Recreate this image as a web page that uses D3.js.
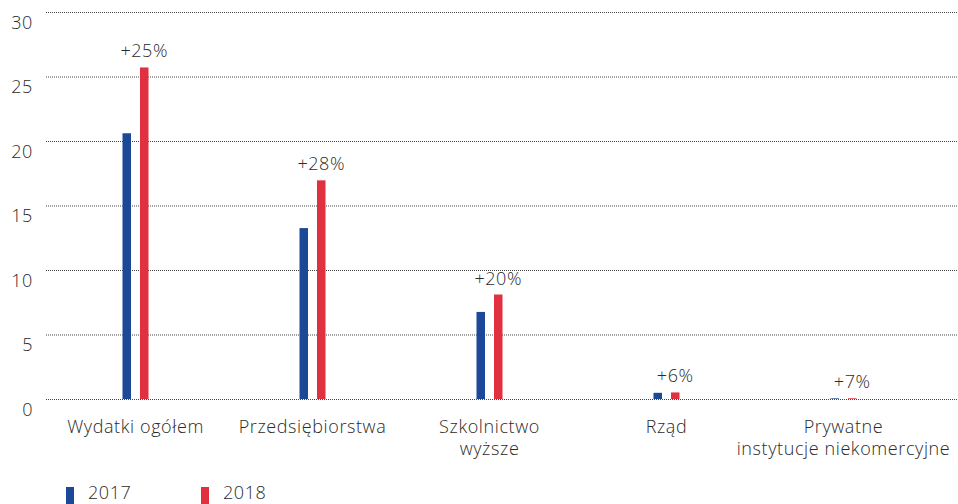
<!DOCTYPE html>
<html><head><meta charset="utf-8">
<script src="https://cdn.jsdelivr.net/npm/d3@7"></script>
<style>
html,body{margin:0;padding:0;background:#fff;}
svg text{font-family:"Open Sans",sans-serif;fill:#2a2a2a;font-weight:300;letter-spacing:0.6px;}
</style></head>
<body><svg id="c" width="958" height="504"></svg>
<script>
const categories = [["Wydatki ogółem"],["Przedsiębiorstwa"],["Szkolnictwo","wyższe"],["Rząd"],["Prywatne","instytucje niekomercyjne"]];
const values2017 = [20.6, 13.25, 6.75, 0.48, 0.05];
const values2018 = [25.7, 16.95, 8.1, 0.51, 0.054];
const changeLabels = ["+25%","+28%","+20%","+6%","+7%"];
const yTicks = [0,5,10,15,20,25,30];
const seriesNames = ["2017","2018"];
const colors = ["#1b4897","#e1303f"];

const FS = 18;
const svg = d3.select("#c");
const y = d3.scaleLinear().domain([0,30]).range([399,12]);
const x = d3.scaleBand().domain(d3.range(categories.length)).range([47,932]);

// gridlines
svg.append("g").selectAll("line").data(yTicks).join("line")
  .attr("x1",46).attr("x2",958)
  .attr("y1",d=>y(d)+0.5).attr("y2",d=>y(d)+0.5)
  .attr("stroke","#444").attr("stroke-width",1).attr("stroke-dasharray","1,1");

// y labels
const yAxis = d3.axisLeft(y).tickValues(yTicks).tickSize(0).tickPadding(0);
const ga = svg.append("g").attr("transform","translate(33,0)").call(yAxis);
ga.select(".domain").remove();
ga.selectAll("text").attr("dy",null).attr("y",16).attr("font-size",FS)
  .style("font-family","'Open Sans',sans-serif").style("font-weight",300).attr("fill","#2a2a2a");

const bw = 8.5;
const groups = svg.append("g").selectAll("g").data(categories).join("g")
  .attr("transform",(d,i)=>`translate(${x(i)+x.bandwidth()/2},0)`);
[values2017, values2018].forEach((vals,s)=>{
  groups.append("rect")
    .attr("x", s===0 ? -13 : 4.5)
    .attr("width", bw)
    .attr("y",(d,i)=>y(vals[i]))
    .attr("height",(d,i)=>y(0)-y(vals[i]))
    .attr("fill",colors[s]);
});
groups.append("text")
  .attr("x", 4.5+bw/2)
  .attr("y",(d,i)=>y(Math.max(values2017[i],values2018[i]))-10)
  .attr("text-anchor","middle").attr("font-size",FS)
  .text((d,i)=>changeLabels[i]);
groups.append("text")
  .attr("text-anchor","middle").attr("font-size",FS)
  .attr("y",433)
  .selectAll("tspan").data(d=>d).join("tspan")
  .attr("x",0).attr("dy",(d,j)=>j===0?0:22).text(d=>d);

// legend
const leg = svg.append("g").selectAll("g").data(seriesNames).join("g")
  .attr("transform",(d,i)=>`translate(${66+i*135},0)`);
leg.append("rect").attr("x",0).attr("y",487).attr("width",8).attr("height",17).attr("fill",(d,i)=>colors[i]);
leg.append("text").attr("x",22).attr("y",499).attr("font-size",FS).text(d=>d);
</script></body></html>
